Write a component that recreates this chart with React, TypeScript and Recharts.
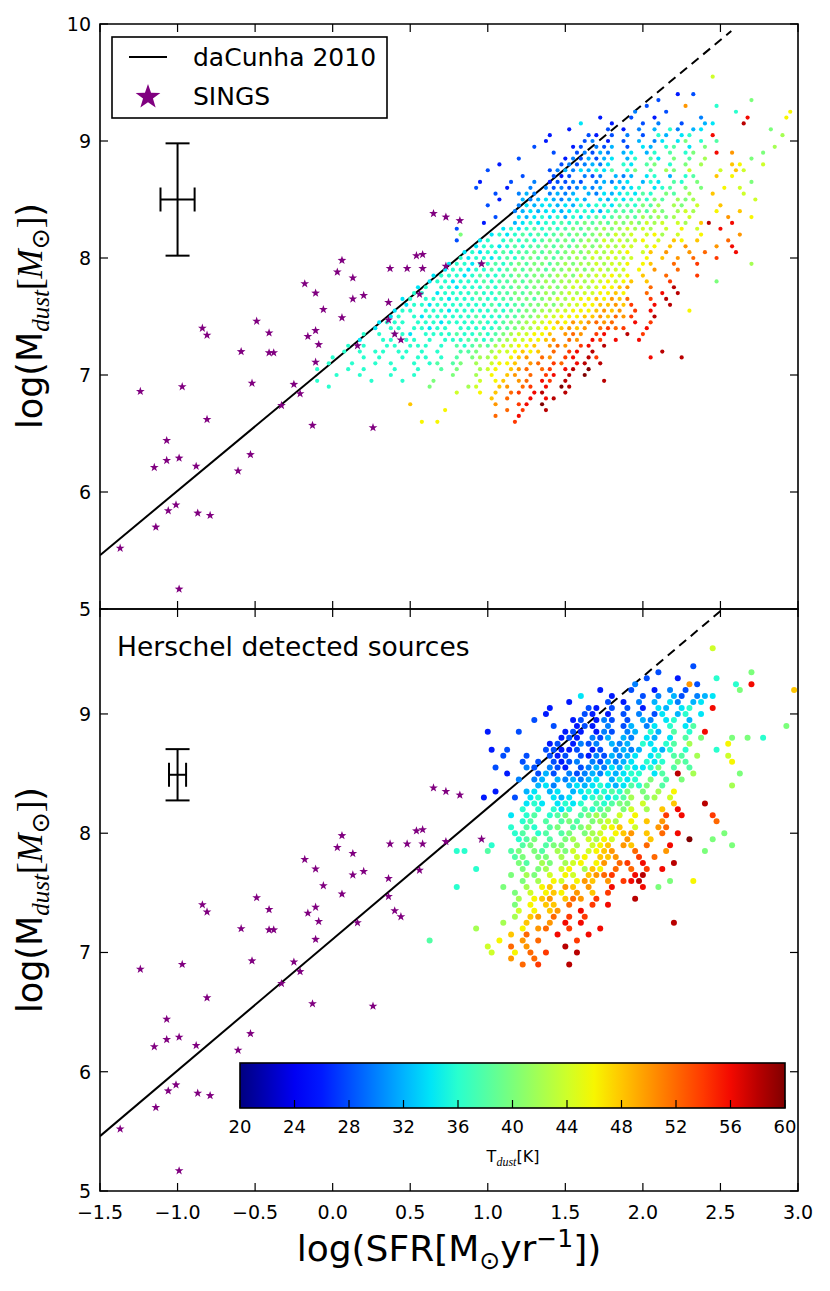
import React from "react";
import { ScatterChart, Scatter, XAxis, YAxis, ReferenceLine, ReferenceArea, ErrorBar } from "recharts";

// axis ticks
const X_TICKS = [-1.5, -1.0, -0.5, 0.0, 0.5, 1.0, 1.5, 2.0, 2.5, 3.0];
const Y_TICKS_TOP = [5, 6, 7, 8, 9, 10];
const Y_TICKS_BOTTOM = [5, 6, 7, 8, 9];
const CBAR_TICKS = [20, 24, 28, 32, 36, 40, 44, 48, 52, 56, 60];

// the point clouds are read off the picture as a map: one row per 0.05 dex in
// Mdust (from 9.55 down), one column per 0.05 dex in SFR (from -0.10), ten
// columns per "|" group. a letter is the dust temperature of the points there:
// a = 20 K, b = 22 K ... u = 60 K; "." is empty.
const GRID_X0 = -0.1;
const GRID_Y0 = 9.55;
const GRID_STEP = 0.05;
const T_CODES = "abcdefghijklmnopqrstu";

const TOP_MAP = [
  "|||||.m",
  "",
  "",
  "||||......d.e.",
  "||||....e.....|......k",
  "||||..e....p..|.i",
  "||||.f...e....|....i.....|.n",
  "|||......d...|e..d.....f|.....s....|n",
  "|||....h...d.|..e.f..e..|gh...t",
  "|||..d....e.d|.f.g.if.gh|........k",
  "|||d....ed.e.|f.e.ig.hi.|.s........|l",
  "||.........d|....ef.d.e|.g.fh.hk.i|.j",
  "||........e.|...de.feg.|e.hg.ij.h.|k........l",
  "|||e..efegf.g|h.gi.j.ik.|.s.p...k",
  "||......e...|..dfegegh.|gi.jh.k.j.|l.....k",
  "||...d......|.efefgfh.i|h.jk.i.k.l|...on..m",
  "||..e.......|efgfhgihj.|ik.j.lk.m.|..m.om",
  "||......e...|ede.fef.gf|g.hi.g.ij.|.o.n",
  "||.d...e..f.|deefe.fgfg|h.gih.ji.k|......k",
  "||e...d..f.f|efefgfg.hg|hi.hij.k.k|..n.m",
  "||...e..fgf.|fgfg.gfhgh|ihji.kj.l.|.o...m",
  "||...d..gfgh|gfghg.hgih|ijikj.lkl.|......m",
  "||..e...fhgh|hghgihiihj|jikjl.lk.m|..o",
  "||.....fghgh|hghiihgijj|jkjlk.lml.|.n..o",
  "||...e..hghi|higihijijk|kjlklkl.m.|...p..n",
  "||.d...ghihi|ijijkjkjlk|lkmlm.ml.o|t..s",
  "|........e.|....hihiji|jijkjkklkl|mlml.m.n.m|..s",
  "|........k.|..hihijiji|jkjkjklkml|m.mnl.m..n|....p",
  "|........e.|.hi.ijijij|kjkjklkmlm|lmn.m.on.o|...q",
  "||hiihijijjk|jkjklklmlm|m.mn.o.p..|.p.s",
  "|.........h|ihiijijjkj|kjklklmlmm|n.mo.p..p.|q...s",
  "|........ih|iihijijkjk|jkklkmlmml|m.n.o.p.q.|.r",
  "|.......hii|hiijijkjkk|jklkllmlmm|n.no..q..r|......l",
  "|......hiih|iijijkjkkj|kkllklmlmm|.n.p..q...",
  "|.....hiiih|ijiijjkjkk|kllkmlmmnm|n.o..q...r",
  "|....hiihii|ijijjkjkkl|kllmlmmnmn|o.o..r....|.k",
  "|...hi.iihi|iijijjkjkk|lklmmlmnno|p..q..t...",
  "|..ii.hiiii|jiijjkjkkl|klmlmmnnon|..q.s.t...",
  "|.hi.iiihii|ijiijjkkjk|lmlmnnonpo|q..r.t....",
  "|.hiihiiiii|iijiijjkkl|klmmnnoopo|r..s.t....",
  "|hii.iiihii|iiijijjkkl|lmmnnnopop|.r.s....n.",
  ".........h|i.ihiiiiii|jiiijjkklm|mnnnoopoqp|r..t",
  "........hi|ii.iiihiii|ijiijkklmm|nonpopqpq.|.s.r",
  ".......h.i|i.iihii.ii|iiijjkllmn|nopop.qrqr|..s",
  "......i.i.|iih.iiiiji|ijijklmmnn|o.pqp.rs..|t.r",
  ".....h..ii|.ii.i.iiij|jijklmmnno|p.qp.sr.s.|.s",
  "....i.i..i|i.iii.i.ji|jkjlmmnno.|pqp.rs.t..",
  "...i.i.ii.|ii.i.i..jj|k.lmmnono.|q.rs.t...|....t",
  "..i...i.i.|.i.ii.i.j.|kllm.nop.q|p.rs.tr...|...s...t",
  ".i..i..i.i|..i.ij.jk.|l.mnno.pq.|rq.st.t...",
  "i...i.i...|i..i..j.k.|.lmn.opq.q|r.st.u",
  "..i..i...i|..i....k..|l.n.op.q.r|s.t.u",
  "i......i..|.i...k....|.m.no.pq.s|r.t....t..",
  ".i........|....k....l|m..op.qr.s|.ut",
  "|........m.|.n.o.qr.st|..t",
  "|..........|..o.q..s.s|t",
  "|..o.......|...p..rs.u",
  "|......n...|....q.r..t",
  "||...q..s...",
  "|...n.n....|.....r....",
];

const BOTTOM_MAP = [
  "|||||.m",
  "",
  "",
  "||||........e",
  "||||....e.....|......k",
  "||||..e...d...|.i",
  "||||.f......pe|....i.s",
  "|||......d...|e..d.f.e..|....k.....|.o",
  "|||....h...d.|..e.f.ge.f|gh",
  "|||..d....e.d|.f.g.hf.gh",
  "|||d....ed.e.|e.d.hg.hi.|.s",
  "||.........d|....ed.d.e|.f.eh.gi.h",
  "||........e.|...de.dfe.|e.gf.hi.g.",
  "|||e..ded.f.e|g.fh.i.hj.||k",
  "||..d...e...|..ded.dfe.|fg.ig.j.i.|s",
  "|||.ded.feg.g|f.hg.h.j.k|...k.k.i",
  "|||de.dfef.gf|g.ih.ij.l.|...n",
  "||..d.e....e|edde.de.fg|fg.hgi.i..|.i",
  "||....e..e..|ede.edfegf|gh.hi.jj.l|...m",
  "||......e.e.|edef.fegfg|h.ihi.kj..|...n",
  "||...e...fe.|fed.efgfhg|ihhik.j.j.",
  "||....d...eg|e.fefgfhgh|ii.hj.t.l.|....k",
  "||......f.fg|.gfgfgh.gi|hi.k.j.k..",
  "||........gh|f.ghghihgh|jik.j.....|...l",
  "||...d...gh.|gh.ghihiji|k.k.l.n...",
  "||.d...e.hi.|hgh.hijhij|l.kl.m....",
  "||.......hih|.hihi.jijk|k.m...o...|t",
  "||......i.i.|ihi.jijk.k|m.l.o.s...",
  "||.....h.ij.|ijk.jklk.m|.n...r.s..|.r",
  "||......ij.j|.jkj.klml.|n.o.p.....|.q",
  "||.....i.ji.|jk.jkl.mno|.m..pq....",
  "||.....ij.ij|.jk.klm.no|p.o.q.s...|..k",
  "||......ijk.|j.kl.mlnm.|p..o....u.|.k",
  "||..i...jk.j|kk.l.mno.p|o.q..s....|...k",
  "|........ii|..j..jk.kj|.lkm.mnop.|.q...p....|k",
  "||.....jk.kk|.l.mn.oop.|.r.q......",
  "||......kj.l|k.lmn.np.q|r.s...t...",
  "||i.....k.kl|.mn.lon.q.|q.r.s.....",
  "||.....k.lk.|m.nm.opqr.|.st.......",
  "||......k.l.|nm.npo.p.r|st...k..n.",
  "|........i.|....k..l.n|o.po.p..s.|..s.k",
  "||.....k.m.n|on.p.o.r..",
  "||......l.no|p.oqp.r...|.t",
  "||.....k.n.o|o.q..r.s..",
  "||......m.n.|op..s.....",
  "||.....l.op.|q.r.r.....",
  "||....l..o..|p.s.s.....|......t",
  "||l.....n.pq|..r...s...",
  "||.....o.q..|.s...s....",
  "|....j.....|...n..p.q.|...r",
  "||..m..q.p..|..t",
  "||..m..n.q.r|...t",
  "||.....p..q.",
  "||......q.r.|..t",
];

// SINGS galaxies, [log SFR, log Mdust]
const SINGS = [
  [0.65, 8.38], [0.73, 8.35], [0.82, 8.32], [0.54, 8.02], [0.58, 8.03], [0.06, 7.98],
  [0.37, 7.91], [0.48, 7.91], [0.58, 7.91], [0.73, 7.93], [0.03, 7.88], [0.13, 7.83],
  [-0.18, 7.78], [-0.11, 7.7], [0.13, 7.65], [0.2, 7.68], [0.56, 7.69], [0.36, 7.62],
  [-0.06, 7.56], [0.06, 7.49], [0.36, 7.47], [-0.49, 7.46], [-0.84, 7.4], [-0.81, 7.34],
  [-0.41, 7.36], [-0.11, 7.38], [-0.16, 7.33], [0.4, 7.35], [0.44, 7.3], [-0.09, 7.26],
  [0.16, 7.25], [-0.59, 7.2], [-0.41, 7.19], [-0.38, 7.19], [-0.11, 7.11], [-0.52, 6.93],
  [-0.25, 6.92], [-0.21, 6.84], [-1.24, 6.86], [-0.97, 6.9], [-0.33, 6.74], [-0.81, 6.62],
  [-0.13, 6.57], [0.26, 6.55], [-1.07, 6.44], [-1.07, 6.27], [-0.99, 6.29], [-1.15, 6.21],
  [-0.88, 6.22], [-0.53, 6.32], [-0.61, 6.18], [-1.01, 5.89], [-1.06, 5.84], [-0.87, 5.82],
  [-0.79, 5.8], [-1.14, 5.7], [-1.37, 5.52], [-0.99, 5.17], [0.96, 7.95],
];

// da Cunha et al. 2010 relation, drawn solid then extrapolated dashed
const DACUNHA_SOLID = [{ x: -1.5, y: 5.46 }, { x: 1.57, y: 8.84 }];
const DACUNHA_DASHED = [{ x: 1.57, y: 8.84 }, { x: 2.57, y: 9.94 }];

// typical errors
const ERR_TOP = [{ x: -1.0, y: 8.5, ex: 0.11, ey: 0.48 }];
const ERR_BOTTOM = [{ x: -1.0, y: 8.49, ex: 0.055, ey: 0.215 }];

function readMap(rows: string[]) {
  const pts: { x: number; y: number; t: number }[] = [];
  rows.forEach((row, r) => {
    const cells = row.split("|").map((g) => g.padEnd(10, ".").slice(0, 10)).join("");
    for (let c = 0; c < cells.length; c++) {
      const k = T_CODES.indexOf(cells[c]);
      if (k < 0) continue;
      pts.push({
        x: GRID_X0 + GRID_STEP * (c + (r % 2) * 0.5),
        y: GRID_Y0 - GRID_STEP * r,
        t: 20 + 2 * k,
      });
    }
  });
  return pts;
}

const topCloud = readMap(TOP_MAP);
const bottomCloud = readMap(BOTTOM_MAP);
const singsData = SINGS.map(([x, y]) => ({ x, y }));

// matplotlib "jet"
const JET = {
  r: [[0, 0], [0.35, 0], [0.66, 1], [0.89, 1], [1, 0.5]],
  g: [[0, 0], [0.125, 0], [0.375, 1], [0.64, 1], [0.91, 0], [1, 0]],
  b: [[0, 0.5], [0.11, 1], [0.34, 1], [0.65, 0], [1, 0]],
};
function seg(pts: number[][], t: number) {
  for (let i = 1; i < pts.length; i++) {
    if (t <= pts[i][0]) {
      const [x0, y0] = pts[i - 1];
      const [x1, y1] = pts[i];
      return y0 + ((y1 - y0) * (t - x0)) / (x1 - x0);
    }
  }
  return pts[pts.length - 1][1];
}
function jet(T: number) {
  const t = Math.min(1, Math.max(0, (T - 20) / 40));
  const c = (v: number) => Math.round(255 * v);
  return `rgb(${c(seg(JET.r, t))},${c(seg(JET.g, t))},${c(seg(JET.b, t))})`;
}

function starPath(cx: number, cy: number, R: number) {
  const r = R * 0.4;
  const p: string[] = [];
  for (let i = 0; i < 10; i++) {
    const a = -Math.PI / 2 + (i * Math.PI) / 5;
    const rr = i % 2 === 0 ? R : r;
    p.push(`${(cx + rr * Math.cos(a)).toFixed(2)},${(cy + rr * Math.sin(a)).toFixed(2)}`);
  }
  return p.join(" ");
}

const PURPLE = "#800080";
const SANS = "DejaVu Sans";
const MATH = "Liberation Serif";
const tickFont = { fontFamily: SANS, fontSize: 19, fill: "#000" };
const TICK_LEN = 8;
const X_MARGIN = 6;
const Y_MARGIN = 9;
const PLOT_W = 698;

const fmtX = (v: number) => v.toFixed(1).replace("-", "\u2212");

function makeXTick(plotH: number, labels: boolean) {
  return (p: any) => {
    const base = p.y - X_MARGIN;
    return (
      <g>
        <line x1={p.x} x2={p.x} y1={base} y2={base - TICK_LEN} stroke="#000" strokeWidth={1.2} />
        <line x1={p.x} x2={p.x} y1={base - plotH} y2={base - plotH + TICK_LEN} stroke="#000" strokeWidth={1.2} />
        {labels && (
          <text x={p.x} y={base + 28} textAnchor="middle" style={tickFont}>
            {fmtX(p.payload.value)}
          </text>
        )}
      </g>
    );
  };
}

function yTick(p: any) {
  const base = p.x + Y_MARGIN;
  return (
    <g>
      <line x1={base} x2={base + TICK_LEN} y1={p.y} y2={p.y} stroke="#000" strokeWidth={1.2} />
      <line x1={base + PLOT_W} x2={base + PLOT_W - TICK_LEN} y1={p.y} y2={p.y} stroke="#000" strokeWidth={1.2} />
      <text x={p.x} y={p.y + 7} textAnchor="end" style={tickFont}>
        {p.payload.value}
      </text>
    </g>
  );
}

const dot = (r: number) => (p: any) => (
  <circle cx={p.cx} cy={p.cy} r={r} fill={jet(p.payload?.t ?? p.t)} />
);
const star = (p: any) => <polygon points={starPath(p.cx, p.cy, 4.6)} fill={PURPLE} />;
const noShape = () => <g />;

function Panel({ cloud, dotR, err, yMax, yTicks, plotH, height, top, mTop, xAxisH, labels }: any) {
  return (
    <div style={{ position: "absolute", left: 0, top }}>
      <ScatterChart width={830} height={height} margin={{ top: mTop, right: 32, bottom: 0, left: 0 }}>
        <XAxis
          type="number"
          dataKey="x"
          domain={[-1.5, 3]}
          ticks={X_TICKS}
          interval={0}
          allowDataOverflow
          height={xAxisH}
          axisLine={false}
          tickLine={false}
          tickSize={0}
          tickMargin={X_MARGIN}
          tick={makeXTick(plotH, labels)}
        />
        <YAxis
          type="number"
          dataKey="y"
          domain={[5, yMax]}
          ticks={yTicks}
          interval={0}
          allowDataOverflow
          width={100}
          axisLine={false}
          tickLine={false}
          tickSize={0}
          tickMargin={Y_MARGIN}
          tick={yTick}
        />
        <Scatter data={cloud} shape={dot(dotR)} isAnimationActive={false} />
        <ReferenceLine segment={DACUNHA_SOLID} stroke="#000" strokeWidth={2} ifOverflow="hidden" />
        <ReferenceLine segment={DACUNHA_DASHED} stroke="#000" strokeWidth={2} strokeDasharray="9 6" ifOverflow="hidden" />
        <Scatter data={singsData} shape={star} isAnimationActive={false} />
        <Scatter data={err} shape={noShape} isAnimationActive={false}>
          <ErrorBar dataKey="ey" direction="y" width={12} stroke="#000" strokeWidth={2} isAnimationActive={false} />
          <ErrorBar dataKey="ex" direction="x" width={12} stroke="#000" strokeWidth={2} isAnimationActive={false} />
        </Scatter>
        <ReferenceArea x1={-1.5} x2={3} y1={5} y2={yMax} fill="none" stroke="#000" strokeWidth={1.6} />
      </ScatterChart>
    </div>
  );
}

function YLabel({ cy }: { cy: number }) {
  return (
    <text transform={`translate(42 ${cy}) rotate(-90)`} textAnchor="middle" style={{ fontFamily: SANS, fontSize: 35 }}>
      log(M
      <tspan dy={7} style={{ fontFamily: MATH, fontStyle: "italic", fontSize: 25 }}>dust</tspan>
      <tspan dy={-7} style={{ fontFamily: MATH }}>[</tspan>
      <tspan style={{ fontFamily: MATH, fontStyle: "italic" }}>M</tspan>
      <tspan dy={7} style={{ fontSize: 25 }}>{"\u2299"}</tspan>
      <tspan dy={-7} style={{ fontFamily: MATH }}>]</tspan>)
    </text>
  );
}

function Overlay() {
  const cbX = 240;
  const cbW = 545;
  const cbY = 1063;
  const cbH = 45;
  const stops = Array.from({ length: 21 }, (_, i) => i / 20);
  return (
    <svg width={830} height={1291} style={{ position: "absolute", left: 0, top: 0, pointerEvents: "none" }}>
      <defs>
        <linearGradient id="jetGrad" x1="0" x2="1" y1="0" y2="0">
          {stops.map((s) => (
            <stop key={s} offset={s} stopColor={jet(20 + 40 * s)} />
          ))}
        </linearGradient>
      </defs>

      {/* legend */}
      <rect x={112} y={37} width={275} height={81} fill="#fff" stroke="#000" strokeWidth={1.6} />
      <line x1={129} x2={167} y1={57} y2={57} stroke="#000" strokeWidth={2} />
      <text x={193} y={66} style={{ fontFamily: SANS, fontSize: 25 }}>daCunha 2010</text>
      <polygon points={starPath(148, 97, 13)} fill={PURPLE} />
      <text x={193} y={105} style={{ fontFamily: SANS, fontSize: 25 }}>SINGS</text>

      <text x={117} y={656} style={{ fontFamily: SANS, fontSize: 26.5 }}>Herschel detected sources</text>

      <YLabel cy={316} />
      <YLabel cy={900} />

      <text x={449} y={1261} textAnchor="middle" style={{ fontFamily: SANS, fontSize: 36 }}>
        log(SFR[M
        <tspan dy={8} style={{ fontSize: 25 }}>{"\u2299"}</tspan>
        <tspan dy={-8}>yr</tspan>
        <tspan dy={-14} style={{ fontSize: 25 }}>{"\u22121"}</tspan>
        <tspan dy={14}>])</tspan>
      </text>

      {/* colour bar */}
      <rect x={cbX} y={cbY} width={cbW} height={cbH} fill="url(#jetGrad)" stroke="#000" strokeWidth={1.6} />
      {CBAR_TICKS.map((t) => {
        const x = cbX + ((t - 20) / 40) * cbW;
        return (
          <g key={t}>
            <line x1={x} x2={x} y1={cbY + cbH} y2={cbY + cbH - 8} stroke="#000" strokeWidth={1.2} />
            <text x={x} y={1133} textAnchor="middle" style={{ fontFamily: SANS, fontSize: 18 }}>{t}</text>
          </g>
        );
      })}
      <text x={513} y={1162} textAnchor="middle" style={{ fontFamily: SANS, fontSize: 16 }}>
        T
        <tspan dy={4} style={{ fontFamily: MATH, fontStyle: "italic", fontSize: 12 }}>dust</tspan>
        <tspan dy={-4}>[K]</tspan>
      </text>
    </svg>
  );
}

export default function App() {
  return (
    <div style={{ position: "absolute", left: 0, top: 0, width: 830, height: 1291, background: "#fff" }}>
      <Panel
        cloud={topCloud}
        dotR={2.1}
        err={ERR_TOP}
        yMax={10}
        yTicks={Y_TICKS_TOP}
        plotH={585}
        height={640}
        top={0}
        mTop={24}
        xAxisH={31}
        labels={false}
      />
      <Panel
        cloud={bottomCloud}
        dotR={3.0}
        err={ERR_BOTTOM}
        yMax={9.88}
        yTicks={Y_TICKS_BOTTOM}
        plotH={582}
        height={701}
        top={590}
        mTop={19}
        xAxisH={100}
        labels={true}
      />
      <Overlay />
    </div>
  );
}
